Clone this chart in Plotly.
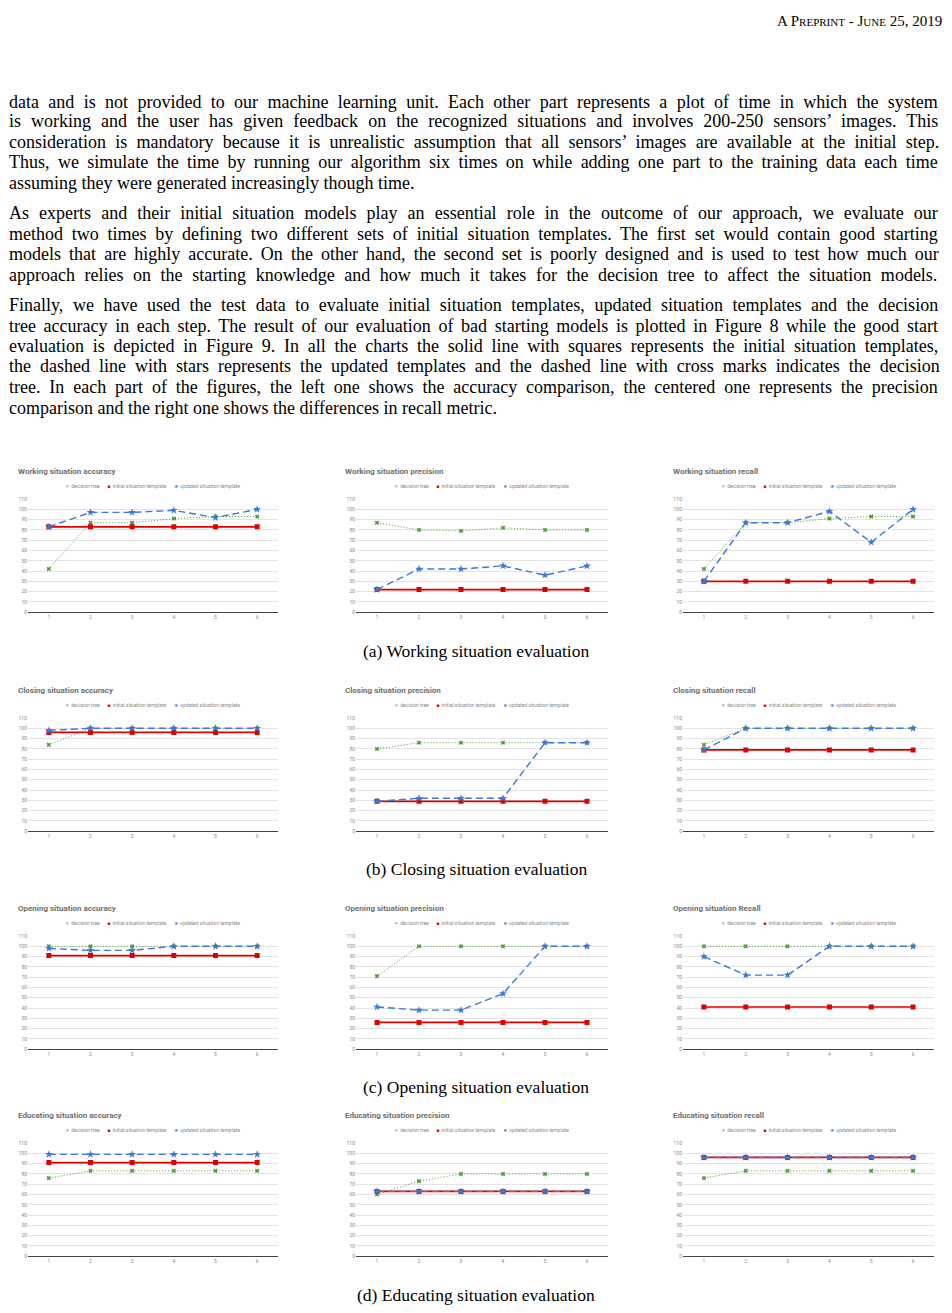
import plotly.graph_objects as go

# x axis: training step (number of data parts used)
steps = [1, 2, 3, 4, 5, 6]

# (a) Working situation
work_acc_dt = [42, 87, 87, 91, 93, 93]
work_acc_init = [83, 83, 83, 83, 83, 83]
work_acc_upd = [83, 97, 97, 99, 92, 100]
work_prec_dt = [87, 80, 79, 82, 80, 80]
work_prec_init = [22, 22, 22, 22, 22, 22]
work_prec_upd = [22, 42, 42, 45, 36, 45]
work_rec_dt = [42, 87, 87, 91, 93, 93]
work_rec_init = [30, 30, 30, 30, 30, 30]
work_rec_upd = [30, 87, 87, 98, 68, 100]

# (b) Closing situation
close_acc_dt = [84, 100, 100, 100, 100, 100]
close_acc_init = [96, 96, 96, 96, 96, 96]
close_acc_upd = [98, 100, 100, 100, 100, 100]
close_prec_dt = [80, 86, 86, 86, 86, 86]
close_prec_init = [29, 29, 29, 29, 29, 29]
close_prec_upd = [29, 32, 32, 32, 86, 86]
close_rec_dt = [84, 100, 100, 100, 100, 100]
close_rec_init = [79, 79, 79, 79, 79, 79]
close_rec_upd = [79, 100, 100, 100, 100, 100]

# (c) Opening situation
open_acc_dt = [100, 100, 100, 100, 100, 100]
open_acc_init = [91, 91, 91, 91, 91, 91]
open_acc_upd = [98, 96, 96, 100, 100, 100]
open_prec_dt = [71, 100, 100, 100, 100, 100]
open_prec_init = [26, 26, 26, 26, 26, 26]
open_prec_upd = [41, 38, 38, 54, 100, 100]
open_rec_dt = [100, 100, 100, 100, 100, 100]
open_rec_init = [41, 41, 41, 41, 41, 41]
open_rec_upd = [90, 72, 72, 100, 100, 100]

# (d) Educating situation
edu_acc_dt = [76, 83, 83, 83, 83, 83]
edu_acc_init = [91, 91, 91, 91, 91, 91]
edu_acc_upd = [99, 99, 99, 99, 99, 99]
edu_prec_dt = [60, 73, 80, 80, 80, 80]
edu_prec_init = [63, 63, 63, 63, 63, 63]
edu_prec_upd = [63, 63, 63, 63, 63, 63]
edu_rec_dt = [76, 83, 83, 83, 83, 83]
edu_rec_init = [96, 96, 96, 96, 96, 96]
edu_rec_upd = [96, 96, 96, 96, 96, 96]

y_ticks = [0, 10, 20, 30, 40, 50, 60, 70, 80, 90, 100, 110]

panels = [
    ("Working situation accuracy", work_acc_dt, work_acc_init, work_acc_upd),
    ("Working situation precision", work_prec_dt, work_prec_init, work_prec_upd),
    ("Working situation recall", work_rec_dt, work_rec_init, work_rec_upd),
    ("Closing situation accuracy", close_acc_dt, close_acc_init, close_acc_upd),
    ("Closing situation precision", close_prec_dt, close_prec_init, close_prec_upd),
    ("Closing situation recall", close_rec_dt, close_rec_init, close_rec_upd),
    ("Opening situation accuracy", open_acc_dt, open_acc_init, open_acc_upd),
    ("Opening situation precision", open_prec_dt, open_prec_init, open_prec_upd),
    ("Opening situation Recall", open_rec_dt, open_rec_init, open_rec_upd),
    ("Educating situation accuracy", edu_acc_dt, edu_acc_init, edu_acc_upd),
    ("Educating situation precision", edu_prec_dt, edu_prec_init, edu_prec_upd),
    ("Educating situation recall", edu_rec_dt, edu_rec_init, edu_rec_upd),
]

captions = ["(a) Working situation evaluation", "(b) Closing situation evaluation",
            "(c) Opening situation evaluation", "(d) Educating situation evaluation"]

paragraphs = [
    ["data and is not provided to our machine learning unit. Each other part represents a plot of time in which the system",
     "is working and the user has given feedback on the recognized situations and involves 200-250 sensors’ images. This",
     "consideration is mandatory because it is unrealistic assumption that all sensors’ images are available at the initial step.",
     "Thus, we simulate the time by running our algorithm six times on while adding one part to the training data each time",
     "assuming they were generated increasingly though time."],
    ["As experts and their initial situation models play an essential role in the outcome of our approach, we evaluate our",
     "method two times by defining two different sets of initial situation templates. The first set would contain good starting",
     "models that are highly accurate. On the other hand, the second set is poorly designed and is used to test how much our",
     "approach relies on the starting knowledge and how much it takes for the decision tree to affect the situation models."],
    ["Finally, we have used the test data to evaluate initial situation templates, updated situation templates and the decision",
     "tree accuracy in each step. The result of our evaluation of bad starting models is plotted in Figure 8 while the good start",
     "evaluation is depicted in Figure 9. In all the charts the solid line with squares represents the initial situation templates,",
     "the dashed line with stars represents the updated templates and the dashed line with cross marks indicates the decision",
     "tree. In each part of the figures, the left one shows the accuracy comparison, the centered one represents the precision",
     "comparison and the right one shows the differences in recall metric."],
]

# the page body keeps its default 8px margin, so the figure is drawn 8px in
OFF = 8
W, H = 952 - 2 * OFF, 1313 - 2 * OFF
GREEN, RED, BLUE = "#4f9a35", "#e00000", "#3c78d8"
CHART_FONT = "Roboto"
SERIF = "Liberation Serif"
BODY_SIZE = 18

# pixel layout of the page (window coordinates)
cols = [(28, 278), (356, 608), (683, 934)]
rows = [(498, 612), (718, 832), (937, 1051), (1145, 1259)]
title_x = [16, 343, 671]
caption_y = [651, 870, 1089, 1298]
para_lines_y = [[99, 119, 140, 160, 181], [211, 232, 252, 273], [303, 324, 345, 365, 386, 407]]
# approximate natural width of each body line at BODY_SIZE (px), used to justify lines
para_line_w = [[827, 835, 848, 847, 0], [823, 852, 850, 833], [843, 860, 848, 848, 846, 0]]
TEXT_W = 929


def fx(v):
    return (v - OFF) / W


def fy(v):
    return 1 - (v - OFF) / H


fig = go.Figure()
annotations = []
layout_axes = {}

for i, (title, dt, init, upd) in enumerate(panels):
    r, c = divmod(i, 3)
    n = i + 1
    xr = "x" if n == 1 else "x%d" % n
    yr = "y" if n == 1 else "y%d" % n
    x0, x1 = cols[c]
    y0, y1 = rows[r]

    fig.add_trace(go.Scatter(x=steps, y=dt, xaxis=xr, yaxis=yr, mode="lines+markers",
                             line=dict(color=GREEN, width=1, dash="1px,2px"),
                             marker=dict(symbol="x", size=4, color=GREEN)))
    fig.add_trace(go.Scatter(x=steps, y=init, xaxis=xr, yaxis=yr, mode="lines+markers",
                             line=dict(color=RED, width=1.7),
                             marker=dict(symbol="square", size=5, color=RED)))
    fig.add_trace(go.Scatter(x=steps, y=upd, xaxis=xr, yaxis=yr, mode="lines+markers",
                             line=dict(color=BLUE, width=1.4, dash="7px,4px"),
                             marker=dict(symbol="star", size=6, color=BLUE)))

    tickfont = dict(family=CHART_FONT, size=5, color="#8a8a8a")
    layout_axes["xaxis" if n == 1 else "xaxis%d" % n] = dict(
        domain=[fx(x0), fx(x1)], anchor=yr, range=[0.5, 6.5], tickvals=steps,
        showgrid=False, zeroline=False, showline=True, linecolor="#444", linewidth=1,
        ticks="", tickfont=tickfont)
    layout_axes["yaxis" if n == 1 else "yaxis%d" % n] = dict(
        domain=[fy(y1), fy(y0)], anchor=xr, range=[0, 110.3], tickvals=y_ticks,
        showgrid=True, gridcolor="#e3e3e3", gridwidth=1, zeroline=False, showline=False,
        ticks="", tickfont=tickfont)

    # chart title
    annotations.append(dict(text="<b>%s</b>" % title, x=fx(title_x[c]), y=fy(y0 - 27),
                            xref="paper", yref="paper", xanchor="left", yanchor="middle",
                            showarrow=False, font=dict(family=CHART_FONT, size=8, color="#6f6f6f")))
    # legend row
    sp = "\u00a0"
    legend = ("<span style='color:%s'>×</span>%s%sdecision tree%s"
              "<span style='color:%s'>■</span>%s%sinitial situation template%s"
              "<span style='color:%s'>★</span>%s%supdated situation template"
              % (GREEN, sp, sp, sp * 6, RED, sp, sp, sp * 6, BLUE, sp, sp))
    annotations.append(dict(text=legend, x=fx((x0 + x1) / 2), y=fy(y0 - 13),
                            xref="paper", yref="paper", xanchor="center", yanchor="middle",
                            showarrow=False, font=dict(family=CHART_FONT, size=5, color="#8a8a8a")))

for r, cap in enumerate(captions):
    annotations.append(dict(text=cap, x=fx(476), y=fy(caption_y[r]), xref="paper", yref="paper",
                            xanchor="center", yanchor="middle", showarrow=False,
                            font=dict(family=SERIF, size=17.5, color="black")))

# body text, justified line by line with word spacing
for lines, ys, ws in zip(paragraphs, para_lines_y, para_line_w):
    for line, yy, w in zip(lines, ys, ws):
        text = line
        if w:
            gap = max(0.0, (TEXT_W - w) / line.count(" "))
            text = "<span style='word-spacing:%.2fpx'>%s</span>" % (gap, line)
        annotations.append(dict(text=text, x=fx(OFF), y=fy(yy), xref="paper", yref="paper",
                                xanchor="left", yanchor="middle", showarrow=False, borderpad=0,
                                font=dict(family=SERIF, size=BODY_SIZE, color="black")))

# running header in small caps
small = "<span style='font-size:11px'>%s</span>"
header = "A P" + small % "REPRINT" + " - J" + small % "UNE" + " 25, 2019"
annotations.append(dict(text=header, x=fx(943), y=fy(18), xref="paper", yref="paper",
                        xanchor="right", yanchor="middle", showarrow=False, borderpad=0,
                        font=dict(family=SERIF, size=15, color="black")))

fig.update_layout(width=W, height=H, margin=dict(l=0, r=0, t=0, b=0), autosize=False,
                  paper_bgcolor="white", plot_bgcolor="white", showlegend=False,
                  annotations=annotations, **layout_axes)

fig.write_html("out.html")
